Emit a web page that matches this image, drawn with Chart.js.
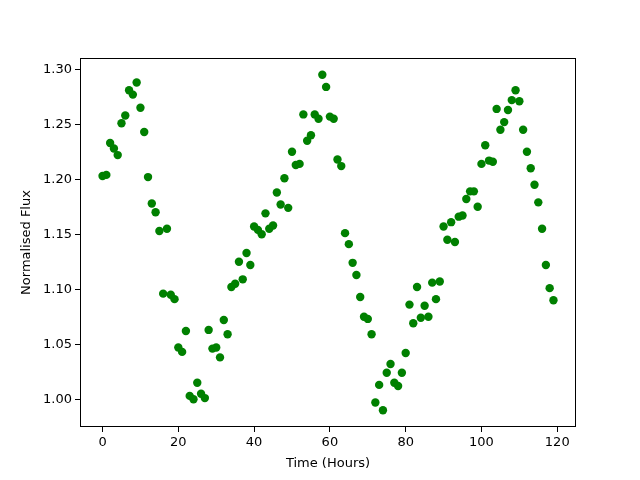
<!DOCTYPE html>
<html>
<head>
<meta charset="utf-8">
<script src="https://cdn.jsdelivr.net/npm/chart.js@4.4.1/dist/chart.umd.min.js"></script>
<style>
  html, body { margin: 0; padding: 0; background: #fff; }
  #wrap { width: 640px; height: 480px; }
</style>
</head>
<body>
<div id="wrap"><canvas id="fluxChart" width="640" height="480"></canvas></div>
<script>
/* ================= DATA ================= */
const hours = [];
for (let h = 0; h < 120; h++) hours.push(h);

const flux = [
  1.203, 1.204, 1.233, 1.228, 1.222, 1.251, 1.258, 1.281, 1.277, 1.288,
  1.265, 1.243, 1.202, 1.178, 1.170, 1.153, 1.096, 1.155, 1.095, 1.091,
  1.047, 1.043, 1.062, 1.003, 1.000, 1.015, 1.005, 1.001, 1.063, 1.046,
  1.047, 1.038, 1.072, 1.059, 1.102, 1.105, 1.125, 1.109, 1.133, 1.122,
  1.157, 1.154, 1.150, 1.169, 1.155, 1.158, 1.188, 1.177, 1.201, 1.174,
  1.225, 1.213, 1.214, 1.259, 1.235, 1.240, 1.259, 1.255, 1.295, 1.284,
  1.257, 1.255, 1.218, 1.212, 1.151, 1.141, 1.124, 1.113, 1.093, 1.075,
  1.073, 1.059, 0.997, 1.013, 0.990, 1.024, 1.032, 1.015, 1.012, 1.024,
  1.042, 1.086, 1.069, 1.102, 1.074, 1.085, 1.075, 1.106, 1.091, 1.107,
  1.157, 1.145, 1.161, 1.143, 1.166, 1.167, 1.182, 1.189, 1.189, 1.175,
  1.214, 1.231, 1.217, 1.216, 1.264, 1.245, 1.252, 1.263, 1.272, 1.281,
  1.271, 1.245, 1.225, 1.210, 1.195, 1.179, 1.155, 1.122, 1.101, 1.090
];

const xTicks = [0, 20, 40, 60, 80, 100, 120];
const yTicks = [1.00, 1.05, 1.10, 1.15, 1.20, 1.25, 1.30];

/* ================= FRAME ================= */
// draws the four spines round the plot area
const frame = {
  id: "frame",
  afterDraw(chart) {
    const a = chart.chartArea;
    const ctx = chart.ctx;
    ctx.save();
    ctx.strokeStyle = "#000";
    ctx.lineWidth = 1;
    ctx.strokeRect(a.left + 0.5, a.top + 0.5, a.right - a.left - 1, a.bottom - a.top - 1);
    ctx.restore();
  }
};

const font = { family: "'DejaVu Sans', sans-serif", size: 13 };

/* ================= CHART ================= */
new Chart(document.getElementById("fluxChart"), {
  type: "scatter",
  data: {
    datasets: [{
      data: hours.map((h, i) => ({ x: h, y: flux[i] })),
      backgroundColor: "#008000",
      borderColor: "#008000",
      pointRadius: 4.2,
      pointBorderWidth: 0
    }]
  },
  options: {
    responsive: false,
    animation: false,
    layout: { padding: { left: 0, right: 64, top: 58, bottom: 0 } },
    plugins: { legend: { display: false }, tooltip: { enabled: false } },
    scales: {
      x: {
        type: "linear",
        min: -5.95,
        max: 124.95,
        afterBuildTicks: s => { s.ticks = xTicks.map(v => ({ value: v })); },
        afterFit: s => { s.height = 53; },
        grid: { drawOnChartArea: false, color: "#000", tickLength: 5 },
        border: { display: false },
        ticks: { color: "#000", font: font, padding: 3, maxRotation: 0 },
        title: { display: true, text: "Time (Hours)", color: "#000", font: font, padding: { top: 0, bottom: 9 } }
      },
      y: {
        type: "linear",
        min: 0.9747,
        max: 1.3103,
        afterBuildTicks: s => { s.ticks = yTicks.map(v => ({ value: v })); },
        afterFit: s => { s.width = 80; },
        grid: { drawOnChartArea: false, color: "#000", tickLength: 5 },
        border: { display: false },
        ticks: { color: "#000", font: font, padding: 3, callback: v => v.toFixed(2) },
        title: { display: true, text: "Normalised Flux", color: "#000", font: font, padding: { top: 19, bottom: 0 } }
      }
    }
  },
  plugins: [frame]
});
</script>
</body>
</html>
